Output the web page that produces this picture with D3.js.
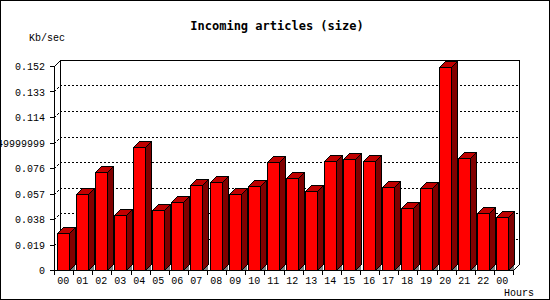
<!DOCTYPE html>
<html>
<head>
<meta charset="utf-8">
<script src="https://cdn.jsdelivr.net/npm/d3@7"></script>
<style>
  body { margin: 0; background: #fff; }
  svg text { font-family: "Liberation Mono", "DejaVu Sans Mono", monospace; font-size: 10px; fill: #000; }
  svg text.title { font-family: "DejaVu Sans Mono", monospace; font-size: 12px; font-weight: bold; }
</style>
</head>
<body>
<div id="chart"></div>
<script>
// hours along the x axis (last one wraps to 00)
var hours = ["00","01","02","03","04","05","06","07","08","09","10","11",
             "12","13","14","15","16","17","18","19","20","21","22","00"];
// incoming size, Kb/sec
var sizes = [0.0274, 0.0568, 0.0728, 0.0411, 0.0913, 0.0444, 0.0509, 0.0636,
             0.0658, 0.0568, 0.0628, 0.0808, 0.0688, 0.0591, 0.0815, 0.0830,
             0.0815, 0.0621, 0.0461, 0.0613, 0.1516, 0.0838, 0.0426, 0.0396];
var tickValues = [0, 0.019, 0.038, 0.057, 0.076, 0.095, 0.114, 0.133, 0.152];
var tickLabels = ["0", "0.019", "0.038", "0.057", "0.076", "0.0949999999", "0.114", "0.133", "0.152"];

var width = 550, height = 300;
// NB: "top" is a reserved window prop, so prefix these
var plotLeft = 54, plotRight = 513, plotBottom = 270, plotTop = 66;
var depth = 6;

var svg = d3.select("#chart").append("svg")
  .attr("width", width)
  .attr("height", height)
  .attr("shape-rendering", "crispEdges");

svg.append("rect")
  .attr("x", 0).attr("y", 0).attr("width", width).attr("height", height)
  .attr("fill", "#fff");

var x = d3.scaleBand()
  .domain(d3.range(hours.length))
  .range([plotLeft, plotRight]);

var y = d3.scaleLinear()
  .domain([0, 0.152])
  .range([plotBottom, plotTop]);

var line = d3.line();
var px = function (v) { return Math.round(v) + 0.5; };

// back wall + dotted grid
var back = svg.append("g").attr("fill", "none").attr("stroke", "#000");
back.append("path").attr("d", line([
  [px(plotLeft), px(plotTop)], [px(plotLeft + depth), px(plotTop - depth)],
  [px(plotRight + depth), px(plotTop - depth)], [px(plotRight + depth), px(plotBottom - depth)],
  [px(plotRight), px(plotBottom)]
]));
back.append("path").attr("d", line([
  [px(plotLeft + depth), px(plotTop - depth)], [px(plotLeft + depth), px(plotBottom - depth)]
]));
back.selectAll(".grid")
  .data(tickValues.filter(function (d) { return d > 0 && d < 0.152; }))
  .enter().append("path")
  .attr("class", "grid")
  .attr("stroke-dasharray", "2,2")
  .attr("d", function (d) {
    return line([[px(plotLeft), px(y(d))], [px(plotLeft + depth), px(y(d) - depth)],
                 [px(plotRight + depth), px(y(d) - depth)]]);
  });

// bars
var bw = 12.4;
var bars = svg.append("g").attr("stroke", "#000");
hours.forEach(function (h, i) {
  var x0 = Math.round(x(i) + 2.5), x1 = Math.round(x0 + bw);
  var yt = Math.round(y(sizes[i])), yb = plotBottom;
  var g = bars.append("g");
  g.append("path").attr("fill", "#808080").attr("stroke", "none")
    .attr("d", line([[x1, yb], [x1 + depth, yb - depth], [x1 + depth, yb]]) + "Z");
  g.append("path").attr("fill", "#800000")
    .attr("d", line([[px(x1), px(yt)], [px(x1 + depth), px(yt - depth)],
                     [px(x1 + depth), px(yb - depth)], [px(x1), px(yb)]]) + "Z");
  g.append("path").attr("fill", "#c00000")
    .attr("d", line([[px(x0), px(yt)], [px(x0 + depth), px(yt - depth)],
                     [px(x1 + depth), px(yt - depth)], [px(x1), px(yt)]]) + "Z");
  g.append("rect").attr("fill", "#ff0000")
    .attr("x", px(x0)).attr("y", px(yt))
    .attr("width", x1 - x0).attr("height", yb - yt);
});

// front axes
var axes = svg.append("g").attr("stroke", "#000").attr("fill", "none");
axes.append("path").attr("d", line([[px(plotLeft), px(plotTop)], [px(plotLeft), px(plotBottom)], [px(plotRight), px(plotBottom)]]));
axes.selectAll(".ytick").data(tickValues).enter().append("path")
  .attr("d", function (d) { return line([[plotLeft - 4, px(y(d))], [px(plotLeft), px(y(d))]]); });
axes.selectAll(".xtick").data(d3.range(hours.length + 1)).enter().append("path")
  .attr("d", function (i) {
    var xx = px(i < hours.length ? x(i) : plotRight);
    return line([[xx, px(plotBottom)], [xx, plotBottom + 5]]);
  });

svg.selectAll(".ylab").data(tickValues).enter().append("text")
  .attr("x", 45).attr("y", function (d) { return y(d) + 4; })
  .attr("text-anchor", "end")
  .text(function (d, i) { return tickLabels[i]; });

svg.selectAll(".xlab").data(hours).enter().append("text")
  .attr("x", function (d, i) { return Math.round(x(i) + 2.5) + bw / 2; })
  .attr("y", 284)
  .attr("text-anchor", "middle")
  .text(function (d) { return d; });

svg.append("text").attr("class", "title").attr("x", 277).attr("y", 30).attr("text-anchor", "middle")
  .text("Incoming articles (size)");
svg.append("text").attr("x", 29).attr("y", 41).text("Kb/sec");
svg.append("text").attr("x", 504).attr("y", 296).text("Hours");

// image frame
svg.append("rect")
  .attr("x", 0.5).attr("y", 0.5).attr("width", width - 1).attr("height", height - 1)
  .attr("fill", "none").attr("stroke", "#000");
</script>
</body>
</html>
